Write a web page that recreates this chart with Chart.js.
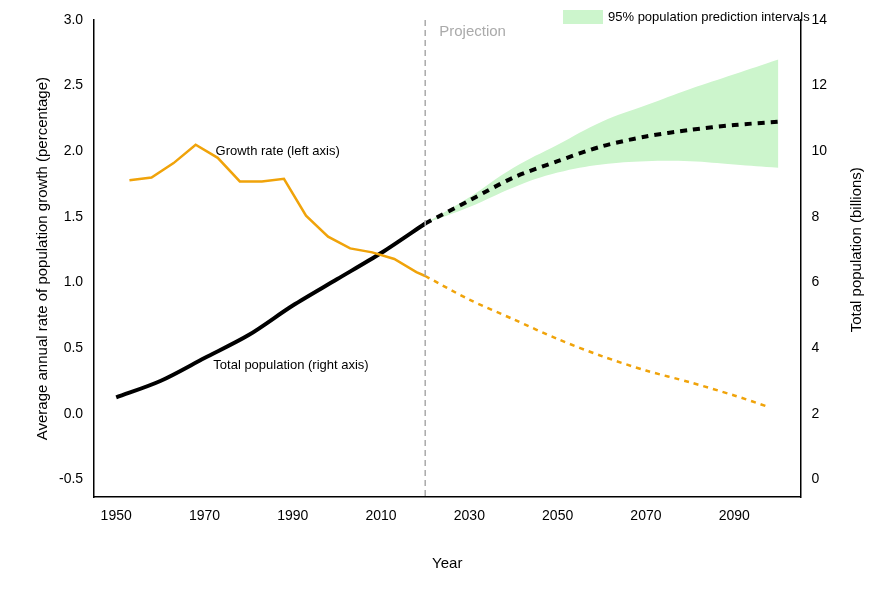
<!DOCTYPE html>
<html><head><meta charset="utf-8">
<script src="https://cdn.jsdelivr.net/npm/chart.js@4"></script>
<style>html,body{margin:0;background:#fff}#wrap{width:878px;height:589px}</style>
</head><body><div id="wrap"><canvas id="c"></canvas></div>
<script>
const growthYears = [1953,1958,1963,1968,1973,1978,1983,1988,1993,1998,2003,2008,2013,2018,2020];
const growthRate = [1.78,1.80,1.91,2.05,1.95,1.77,1.77,1.79,1.51,1.35,1.26,1.23,1.18,1.08,1.05];
const growthProjYears = [2020,2030,2040,2050,2060,2070,2080,2090,2098];
const growthProj = [1.05,0.87,0.72,0.57,0.44,0.33,0.24,0.14,0.05];
const popYears = [1950,1960,1970,1980,1990,2000,2010,2020];
const popValues = [2.5,3.0,3.7,4.4,5.3,6.1,6.9,7.8];
const projYears = [2020,2030,2040,2050,2060,2070,2080,2090,2100];
const popProj = [7.8,8.5,9.2,9.7,10.15,10.45,10.65,10.8,10.9];
const piUpper = [7.8,8.6,9.5,10.2,10.9,11.4,11.9,12.35,12.8];
const piLower = [7.8,8.3,8.9,9.35,9.6,9.7,9.7,9.6,9.5];
const xTicks = [1950,1970,1990,2010,2030,2050,2070,2090];
const leftTicks = [-0.5,0,0.5,1,1.5,2,2.5,3];
const rightTicks = [0,2,4,6,8,10,12,14];

const xy = (xs, ys) => xs.map((x, i) => ({x, y: ys[i]}));
const orange = '#f0a30a';
const font = 'Arial, "Liberation Sans", sans-serif';

const notes = {
  id: 'notes',
  afterDatasetsDraw(chart) {
    const {ctx, scales: {x, y, y2}} = chart;
    ctx.save();
    const px = x.getPixelForValue(2020);
    ctx.strokeStyle = '#aaa'; ctx.setLineDash([6,4]); ctx.lineWidth = 1.5;
    ctx.beginPath(); ctx.moveTo(px, y.top); ctx.lineTo(px, y.bottom); ctx.stroke();
    ctx.setLineDash([]);
    ctx.font = '15px ' + font;
    ctx.fillStyle = '#aaa'; ctx.textBaseline = 'middle';
    ctx.fillText('Projection', px + 14, y.getPixelForValue(2.91));
    ctx.fillStyle = '#000'; ctx.font = '13px ' + font;
    ctx.fillText('Growth rate (left axis)', x.getPixelForValue(1972.5), y.getPixelForValue(2.0));
    ctx.fillText('Total population (right axis)', x.getPixelForValue(1972), y.getPixelForValue(0.37));
    ctx.fillStyle = '#ccf5cc';
    ctx.fillRect(563, 10, 40, 14);
    ctx.fillStyle = '#000';
    ctx.fillText('95% population prediction intervals', 608, 17);
    ctx.translate(857, (y2.getPixelForValue(0) + y2.getPixelForValue(14)) / 2);
    ctx.rotate(-Math.PI / 2);
    ctx.textAlign = 'center'; ctx.font = '15px ' + font;
    ctx.fillText('Total population (billions)', 0, 0);
    ctx.restore();
  }
};

new Chart(document.getElementById('c'), {
  type: 'line',
  data: {
    datasets: [
      { data: xy(projYears, piUpper), yAxisID: 'y2', borderWidth: 0, pointRadius: 0, backgroundColor: '#ccf5cc', fill: '+1', tension: 0.4, order: 5 },
      { data: xy(projYears, piLower), yAxisID: 'y2', borderWidth: 0, pointRadius: 0, fill: false, tension: 0.4, order: 5 },
      { data: xy(growthYears, growthRate), yAxisID: 'y', borderColor: orange, borderWidth: 2.5, pointRadius: 0, tension: 0 },
      { data: xy(growthProjYears, growthProj), yAxisID: 'y', borderColor: orange, borderWidth: 2.5, borderDash: [5,5], pointRadius: 0, tension: 0.3 },
      { data: xy(popYears, popValues), yAxisID: 'y2', borderColor: '#000', borderWidth: 4, pointRadius: 0, tension: 0.3 },
      { data: xy(projYears, popProj), yAxisID: 'y2', borderColor: '#000', borderWidth: 4, borderDash: [7,6], pointRadius: 0, tension: 0.3 }
    ]
  },
  options: {
    responsive: true, maintainAspectRatio: false, animation: false,
    layout: { padding: { top: 20, right: 48, left: 30, bottom: 12 } },
    plugins: { legend: { display: false }, tooltip: { enabled: false } },
    scales: {
      x: {
        type: 'linear', min: 1945, max: 2105,
        afterBuildTicks: s => { s.ticks = xTicks.map(v => ({value: v})); },
        grid: { display: false, drawTicks: true, tickLength: 8, tickColor: '#000' },
        border: { color: '#000', width: 1.5 },
        ticks: { color: '#000', font: { size: 14 }, callback: v => String(v) },
        title: { display: true, text: 'Year', color: '#000', font: { size: 15 }, padding: { top: 27 } }
      },
      y: {
        position: 'left', min: -0.635, max: 3.0,
        afterBuildTicks: s => { s.ticks = leftTicks.map(v => ({value: v})); },
        ticks: { color: '#000', font: { size: 14 }, callback: v => v.toFixed(1) },
        grid: { display: false, drawTicks: true, tickLength: 8, tickColor: '#000' },
        border: { color: '#000', width: 1.5 },
        title: { display: true, text: 'Average annual rate of population growth (percentage)', color: '#000', font: { size: 15 } }
      },
      y2: {
        position: 'right', min: -0.54, max: 14,
        afterBuildTicks: s => { s.ticks = rightTicks.map(v => ({value: v})); },
        ticks: { color: '#000', font: { size: 14 } },
        grid: { display: false, drawTicks: true, tickLength: 8, tickColor: '#000' },
        border: { color: '#000', width: 1.5 }
      }
    }
  },
  plugins: [notes]
});
</script></body></html>
